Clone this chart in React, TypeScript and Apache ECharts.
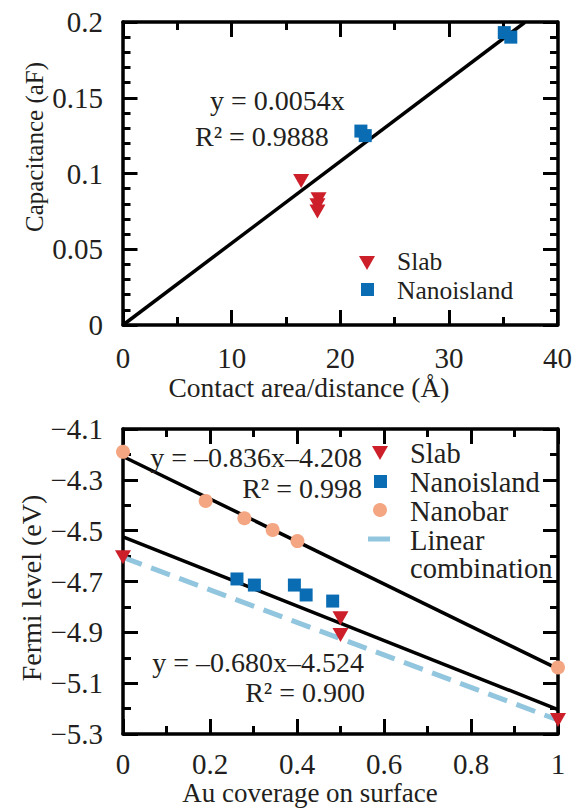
import React, { useEffect, useRef } from "react";
import * as echarts from "echarts";

// ---------- data: top panel ----------
const TOP_SLAB: number[][] = [
  [16.4, 0.095],
  [18.0, 0.083],
  [17.9, 0.079],
  [17.9, 0.075],
];
const TOP_ISLAND: number[][] = [
  [21.9, 0.128],
  [22.3, 0.125],
  [35.1, 0.193],
  [35.7, 0.19],
];
const TOP_FIT: number[][] = [
  [0, 0],
  [37, 0.1998],
];
const TOP_X_LABELS = [0, 10, 20, 30, 40];
const TOP_Y_LABELS = [0, 0.05, 0.1, 0.15, 0.2];

// ---------- data: bottom panel ----------
const BOT_SLAB: number[][] = [
  [0, -4.605],
  [0.5, -4.845],
  [0.5, -4.91],
  [1, -5.245],
];
const BOT_ISLAND: number[][] = [
  [0.262, -4.69],
  [0.302, -4.714],
  [0.394, -4.714],
  [0.421, -4.753],
  [0.482, -4.777],
];
const BOT_NANOBAR: number[][] = [
  [0, -4.19],
  [0.19, -4.383],
  [0.279, -4.451],
  [0.344, -4.497],
  [0.401, -4.541],
  [1, -5.038],
];
const FIT_NANOBAR: number[][] = [
  [0, -4.208],
  [1, -5.044],
];
const FIT_ISLAND: number[][] = [
  [0, -4.524],
  [1, -5.204],
];
const LINEAR_COMB: number[][] = [
  [0, -4.605],
  [1, -5.245],
];
const BOT_X_LABELS = [0, 0.2, 0.4, 0.6, 0.8, 1];
const BOT_Y_LABELS = [-5.3, -5.1, -4.9, -4.7, -4.5, -4.3, -4.1];
const BOT_Y_MINOR = [-5.2, -5.0, -4.8, -4.6, -4.4, -4.2];

// ---------- styles ----------
const FONT = '"Liberation Serif", "Times New Roman", serif';
const TXT = "#231f20";
const RED = "#cc1f2a";
const BLUE = "#0a6db3";
const SALMON = "#f4a582";
const LIGHTBLUE = "#92c5de";
const TRI = "path://M0,0L10,0L5,9Z";

const LINE_W = 3.5;
const MAJOR_LEN = 15;
const MINOR_LEN = 8;
const TICK_STYLE = { color: "#000", width: 3 };
const labelStyle = { fontFamily: FONT, fontSize: 29, color: TXT };

const GRID_TOP = { left: 123, top: 22, width: 435, height: 303 };
const GRID_BOT = { left: 123, top: 429, width: 435, height: 305 };

const fmtMinus = (v: number) => {
  const s = String(Math.round(v * 1000) / 1000);
  return s.replace("-", "\u2212");
};

const lineOn = { show: true, onZero: false, lineStyle: { color: "#000", width: LINE_W } };
const lineOff = { show: false, onZero: false };
const noTick = { show: false };
const noLabel = { show: false };

// Axis that only carries labels (and the frame line on its side)
function labelAxis(gridIndex: number, position: string, min: number, max: number, extra: any) {
  return {
    type: "value",
    gridIndex,
    position,
    min,
    max,
    axisLine: lineOn,
    axisTick: noTick,
    minorTick: { show: false },
    splitLine: { show: false },
    ...extra,
  };
}

// Axis placed on the opposite edge (via offset) so its outward ticks point into the plot
function tickAxis(gridIndex: number, position: string, offset: number, min: number, max: number, extra: any) {
  return {
    type: "value",
    gridIndex,
    position,
    offset,
    min,
    max,
    axisLine: lineOff,
    axisLabel: noLabel,
    splitLine: { show: false },
    ...extra,
  };
}

export default function App() {
  const ref = useRef<HTMLDivElement>(null);

  useEffect(() => {
    if (!ref.current) return;
    const chart = echarts.init(ref.current, null, { renderer: "svg" });

    const majorTick = { show: true, inside: false, length: MAJOR_LEN, lineStyle: TICK_STYLE };
    const minorTick = (split: number) => ({ show: true, splitNumber: split, length: MINOR_LEN, lineStyle: TICK_STYLE });

    const tx0 = TOP_X_LABELS[0], tx1 = TOP_X_LABELS[TOP_X_LABELS.length - 1];
    const ty0 = TOP_Y_LABELS[0], ty1 = TOP_Y_LABELS[TOP_Y_LABELS.length - 1];
    const bx0 = BOT_X_LABELS[0], bx1 = BOT_X_LABELS[BOT_X_LABELS.length - 1];
    const by0 = BOT_Y_LABELS[0], by1 = BOT_Y_LABELS[BOT_Y_LABELS.length - 1];

    const topXTicks = { interval: 10, axisTick: majorTick, minorTick: minorTick(2) };
    const botXTicks = { interval: 0.2, axisTick: majorTick, minorTick: minorTick(2) };
    const topYTicks = { interval: 0.05, axisTick: majorTick, minorTick: minorTick(5) };

    const xAxis = [
      labelAxis(0, "bottom", tx0, tx1, { interval: 10, axisLabel: { ...labelStyle, margin: 18 } }),
      tickAxis(0, "bottom", -GRID_TOP.height, tx0, tx1, { ...topXTicks, axisLine: lineOn }),
      tickAxis(0, "top", -GRID_TOP.height, tx0, tx1, topXTicks),
      labelAxis(1, "bottom", bx0, bx1, { interval: 0.2, axisLabel: { ...labelStyle, margin: 15 } }),
      tickAxis(1, "bottom", -GRID_BOT.height, bx0, bx1, { ...botXTicks, axisLine: lineOn }),
      tickAxis(1, "top", -GRID_BOT.height, bx0, bx1, botXTicks),
    ];

    const botMajor = { axisTick: { ...majorTick, customValues: BOT_Y_LABELS }, minorTick: { show: false } };
    const botMinor = { axisTick: { ...majorTick, length: MINOR_LEN, customValues: BOT_Y_MINOR }, minorTick: { show: false } };

    const yAxis = [
      labelAxis(0, "left", ty0, ty1, { interval: 0.05, axisLabel: { ...labelStyle, margin: 20 } }),
      tickAxis(0, "left", -GRID_TOP.width, ty0, ty1, { ...topYTicks, axisLine: lineOn }),
      tickAxis(0, "right", -GRID_TOP.width, ty0, ty1, topYTicks),
      labelAxis(1, "left", by0, by1, {
        axisLabel: { ...labelStyle, margin: 20, customValues: BOT_Y_LABELS, formatter: fmtMinus },
      }),
      tickAxis(1, "left", -GRID_BOT.width, by0, by1, { ...botMajor, axisLine: lineOn }),
      tickAxis(1, "left", -GRID_BOT.width, by0, by1, botMinor),
      tickAxis(1, "right", -GRID_BOT.width, by0, by1, botMajor),
      tickAxis(1, "right", -GRID_BOT.width, by0, by1, botMinor),
    ];

    const line = (name: string, data: number[][], xi: number, yi: number, style: any) => ({
      name,
      type: "line",
      xAxisIndex: xi,
      yAxisIndex: yi,
      data,
      symbol: "none",
      showSymbol: false,
      lineStyle: style,
      z: 3,
    });
    const scatter = (name: string, data: number[][], xi: number, yi: number, symbol: string, size: any, color: string) => ({
      name,
      type: "scatter",
      xAxisIndex: xi,
      yAxisIndex: yi,
      data,
      symbol,
      symbolSize: size,
      itemStyle: { color, opacity: 1 },
      clip: false,
      z: 5,
    });

    const series = [
      line("Fit capacitance", TOP_FIT, 0, 0, { color: "#000", width: LINE_W }),
      scatter("Slab", TOP_SLAB, 0, 0, TRI, [16, 14], RED),
      scatter("Nanoisland", TOP_ISLAND, 0, 0, "rect", 13, BLUE),

      line("Fit nanobar", FIT_NANOBAR, 3, 3, { color: "#000", width: LINE_W }),
      line("Fit nanoisland", FIT_ISLAND, 3, 3, { color: "#000", width: LINE_W }),
      line("Linear combination", LINEAR_COMB, 3, 3, { color: LIGHTBLUE, width: 5, type: [20, 10] }),
      scatter("Nanobar", BOT_NANOBAR, 3, 3, "circle", 14, SALMON),
      scatter("Nanoisland", BOT_ISLAND, 3, 3, "rect", 13, BLUE),
      scatter("Slab", BOT_SLAB, 3, 3, TRI, [16, 14], RED),
    ];

    const txt = (text: string, x: number, y: number, opts: any = {}) => ({
      type: "text",
      x,
      y,
      rotation: opts.rotation || 0,
      style: {
        text,
        fill: TXT,
        font: `${opts.size || 28}px ${FONT}`,
        lineHeight: opts.lh,
        align: opts.align || "left",
        verticalAlign: "middle",
      },
      z: 10,
    });

    const graphic = [
      // axis titles
      txt("Capacitance (aF)", 34, 147, { rotation: Math.PI / 2, align: "center", size: 25 }),
      txt("Contact area/distance (\u00c5)", 309, 387, { align: "center", size: 27.5 }),
      txt("Fermi level (eV)", 31, 588, { rotation: Math.PI / 2, align: "center", size: 28 }),
      txt("Au coverage on surface", 310, 793, { align: "center", size: 27 }),

      // annotations top
      txt("y = 0.0054x", 210, 100),
      txt("R\u00b2 = 0.9888", 195, 136),
      // annotations bottom
      txt("y = \u20130.836x\u20134.208", 362, 457, { align: "right" }),
      txt("R\u00b2 = 0.998", 362, 488, { align: "right" }),
      txt("y = \u20130.680x\u20134.524", 364, 662, { align: "right" }),
      txt("R\u00b2 = 0.900", 365, 692, { align: "right" }),

      // legend top
      { type: "polygon", shape: { points: [[359, 256], [375, 256], [367, 270]] }, style: { fill: RED }, z: 10 },
      { type: "rect", shape: { x: 361, y: 283, width: 13, height: 13 }, style: { fill: BLUE }, z: 10 },
      txt("Slab", 397, 261, { size: 25.5, lh: 26 }),
      txt("Nanoisland", 397, 290, { size: 25.5, lh: 26 }),

      // legend bottom
      { type: "polygon", shape: { points: [[372, 446], [388, 446], [380, 460]] }, style: { fill: RED }, z: 10 },
      { type: "rect", shape: { x: 374, y: 475, width: 13, height: 13 }, style: { fill: BLUE }, z: 10 },
      { type: "circle", shape: { cx: 380, cy: 510, r: 7 }, style: { fill: SALMON }, z: 10 },
      { type: "line", shape: { x1: 368, y1: 539, x2: 390, y2: 539 }, style: { stroke: LIGHTBLUE, lineWidth: 5 }, z: 10 },
      txt("Slab", 410, 453, { size: 28.5, lh: 27 }),
      txt("Nanoisland", 410, 482, { size: 28.5, lh: 27 }),
      txt("Nanobar", 410, 511, { size: 28.5, lh: 27 }),
      txt("Linear", 410, 540, { size: 28.5, lh: 27 }),
      txt("combination", 410, 568, { size: 28.5, lh: 27 }),
    ];

    chart.setOption({
      animation: false,
      backgroundColor: "#fff",
      textStyle: { fontFamily: FONT },
      grid: [GRID_TOP, GRID_BOT],
      xAxis,
      yAxis,
      series,
      graphic,
    });

    return () => chart.dispose();
  }, []);

  return (
    <div
      ref={ref}
      style={{ position: "absolute", left: 0, top: 0, width: 575, height: 810, background: "#fff" }}
    />
  );
}
